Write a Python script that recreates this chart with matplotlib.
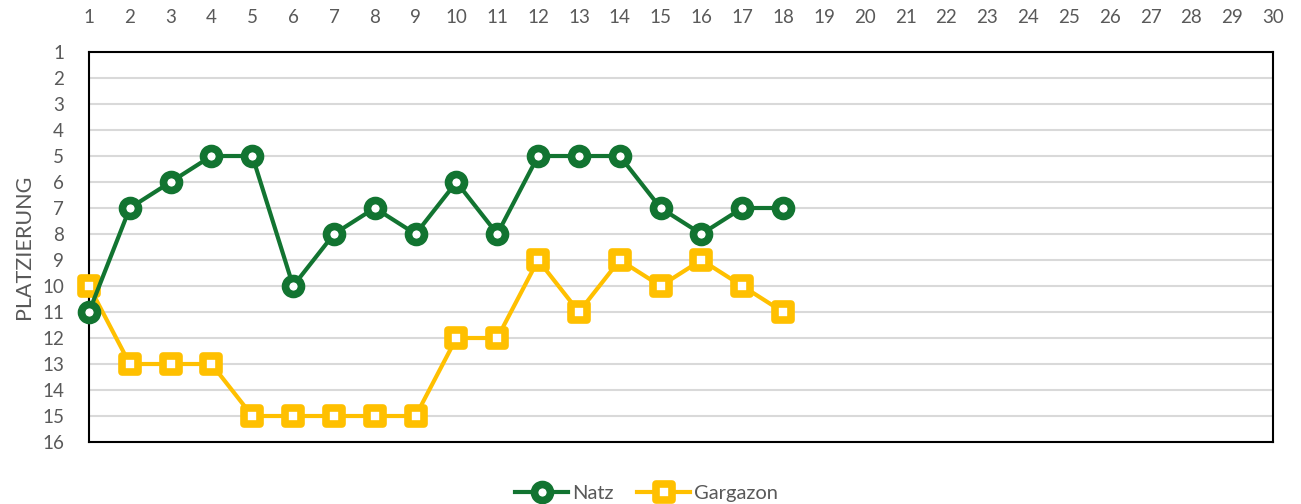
import matplotlib
matplotlib.use("Agg")
import matplotlib.pyplot as plt
from matplotlib.markers import MarkerStyle

plt.rcParams['font.family'] = ['Lato', 'DejaVu Sans']

spieltage = list(range(1, 19))
natz = [11, 7, 6, 5, 5, 10, 8, 7, 8, 6, 8, 5, 5, 5, 7, 8, 7, 7]
gargazon = [10, 13, 13, 13, 15, 15, 15, 15, 15, 12, 12, 9, 11, 9, 10, 9, 10, 11]
x_ticks = list(range(1, 31))
y_ticks = list(range(1, 17))

green = '#127431'
yellow = '#FFC000'
text_gray = '#595959'

fig = plt.figure(figsize=(13.01, 5.04), dpi=100)
ax = fig.add_axes([0.0684, 0.1230, 0.9101, 0.7738])

ax.plot(spieltage, gargazon, color=yellow, linewidth=3, zorder=3,
        marker=MarkerStyle('s', joinstyle='round'), markersize=11.5,
        markerfacecolor='white', markeredgecolor=yellow, markeredgewidth=5.5,
        label='Gargazon', clip_on=False)
ax.plot(spieltage, natz, color=green, linewidth=3, zorder=4,
        marker='o', markersize=11.5,
        markerfacecolor='white', markeredgecolor=green, markeredgewidth=5.5,
        label='Natz', clip_on=False)

ax.set_xlim(1, 30)
ax.set_ylim(16, 1)
ax.set_xticks(x_ticks)
ax.set_yticks(y_ticks)
ax.xaxis.tick_top()
ax.tick_params(axis='both', length=0, labelsize=13.5, labelcolor=text_gray)
ax.tick_params(axis='x', pad=19)
ax.tick_params(axis='y', pad=18)
ax.grid(axis='y', color='#D9D9D9', linewidth=1.5, zorder=0)
ax.set_axisbelow(True)
for s in ax.spines.values():
    s.set_color('black')
    s.set_linewidth(1.5)

ax.set_ylabel('PLATZIERUNG', fontsize=15.5, color=text_gray, labelpad=6)

handles, labels = ax.get_legend_handles_labels()
leg = fig.legend(handles[::-1], labels[::-1], loc='center', bbox_to_anchor=(0.497, 0.02),
                 ncol=2, frameon=False, fontsize=14.5, handlelength=2.6,
                 columnspacing=1.2, handletextpad=0.2)
for t in leg.get_texts():
    t.set_color(text_gray)

fig.savefig('out.png', dpi=100)
